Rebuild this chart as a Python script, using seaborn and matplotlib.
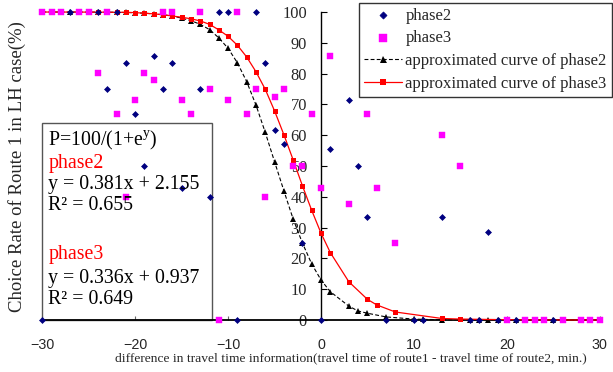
import seaborn as sns
import matplotlib.pyplot as plt
from matplotlib.patches import Rectangle

# phase2 observations (navy diamonds)
x_phase2 = [-30, -27, -24, -23, -22, -21, -20, -19, -18, -17, -16, -15, -13, -12, -11, -10,
            -9, -7, -6, -5, -4, -2, 0, 1, 3, 4, 5, 7, 10, 11, 13, 16, 17, 18, 19, 21, 25]
y_phase2 = [0, 100, 100, 75.1, 100, 83.3, 66.8, 50.1, 85.8, 75.1, 83.3, 43.0, 75.1, 40.0, 100, 100,
            0, 100, 83.5, 61.7, 57.1, 25.0, 0, 55.5, 71.4, 50.0, 33.3, 0, 0, 0, 33.3, 0, 0, 28.6, 0, 0, 0]

# phase3 observations (magenta squares)
x_phase3 = [-30, -29, -28, -26, -25, -24, -23, -22, -21, -20, -19, -18, -17, -16, -15, -14, -13,
            -12, -11, -10, -9, -8, -7, -6, -5, -4, -3, -2, -1, 0, 1, 3, 5, 6, 8, 13, 15,
            20, 22, 23, 24, 26, 28, 29, 30]
y_phase3 = [100, 100, 100, 100, 100, 80.1, 100, 66.8, 40.0, 71.4, 80.1, 77.8, 100, 100, 71.4, 66.8, 100,
            75.1, 0, 71.4, 100, 66.8, 75.1, 40.0, 72.3, 75.1, 50.0, 50.0, 66.8, 42.8, 85.8, 37.6, 66.8, 42.8, 25.1, 60.0, 50.0,
            0, 0, 0, 0, 0, 0, 0, 0]

# approximated curves
x_curve2 = [-30, -27, -24, -23, -22, -21, -20, -19, -18, -17, -16, -15, -14, -13, -12, -11, -10,
            -9, -8, -7, -6, -5, -4, -3, -2, -1, 0, 1, 3, 4, 5, 7, 10, 11, 13, 16, 17, 18, 19, 21, 25, 30]
y_curve2 = [100.0, 99.99, 99.96, 99.94, 99.9, 99.85, 99.75, 99.6, 99.4, 99.1, 98.7, 98.0, 97.2, 96.0, 94.3, 91.6, 88.2,
            83.5, 77.4, 69.8, 60.9, 51.4, 42.0, 32.8, 25.0, 18.2, 13.0, 9.2, 4.5, 2.9, 2.2, 1.0, 0.3, 0.2, 0.1, 0.05, 0.03,
            0.02, 0.01, 0.0, 0.0, 0.0]
x_curve3 = x_phase3
y_curve3 = [99.99, 99.99, 99.98, 99.97, 99.96, 99.95, 99.93, 99.9, 99.9, 99.8, 99.6, 99.4, 99.1, 98.7, 98.3, 97.8, 97.1,
            96.0, 94.2, 92.1, 89.2, 85.4, 80.6, 74.9, 67.9, 60.2, 52.0, 43.6, 35.6, 28.2, 21.9, 12.4, 6.7, 4.9, 2.6, 0.5, 0.3,
            0.1, 0.05, 0.03, 0.02, 0.01, 0.01, 0.0, 0.0]

x_ticks = [-30, -20, -10, 0, 10, 20, 30]
y_ticks = [0, 10, 20, 30, 40, 50, 60, 70, 80, 90, 100]

sns.set_theme(style="white")
plt.rcParams['font.family'] = ['Liberation Serif', 'DejaVu Serif']
plt.rcParams['mathtext.fontset'] = 'custom'
plt.rcParams['mathtext.rm'] = 'Liberation Serif'

fig = plt.figure(figsize=(6.13, 3.72), dpi=100)
ax = fig.add_axes([42.3 / 613, 52 / 372, 557.4 / 613, 308 / 372])

sns.scatterplot(x=x_phase2, y=y_phase2, marker='D', s=9, color='#000080', edgecolor='#000080',
                linewidth=0.5, label='phase2', zorder=6, clip_on=False, ax=ax)
sns.scatterplot(x=x_phase3, y=y_phase3, marker='s', s=18, color='#FF00FF', edgecolor='#FF00FF',
                linewidth=0.3, label='phase3', zorder=5, clip_on=False, ax=ax)
sns.lineplot(x=x_curve2, y=y_curve2, color='black', linewidth=0.8, linestyle='--',
             marker='^', markersize=4.2, markeredgewidth=0, estimator=None,
             label='approximated curve of phase2', zorder=3, clip_on=False, ax=ax)
ax.lines[-1].set_dashes([3.5, 2])
sns.lineplot(x=x_curve3, y=y_curve3, color='#FF0000', linewidth=0.9,
             marker='s', markersize=3.6, markeredgewidth=0, estimator=None,
             label='approximated curve of phase3', zorder=4, clip_on=False, ax=ax)

ax.set_xlim(-30, 30)
ax.set_ylim(0, 100)
ax.set_xticks(x_ticks)
ax.set_yticks(y_ticks)
ax.spines['left'].set_position(('data', 0))
ax.spines['right'].set_visible(False)
ax.spines['top'].set_visible(False)
ax.spines['left'].set_color('black')
ax.spines['left'].set_linewidth(1.0)
ax.spines['bottom'].set_color('black')
ax.spines['bottom'].set_linewidth(1.3)
ax.tick_params(axis='y', direction='in', length=4, width=0.8, color='black',
               labelsize=11.8, pad=10, left=True)
ax.tick_params(axis='x', direction='in', length=3, width=0.8, color='#666666',
               labelsize=10.3, pad=13, bottom=True, labelfontfamily='Liberation Sans')
ax.set_xlabel('')
ax.set_ylabel('')

fig.text(351 / 613, 1 - 358 / 372,
         'difference in travel time information(travel time of route1 - travel time of route2, min.)',
         ha='center', va='center', fontsize=9.7)
fig.text(17 / 613, 1 - 167 / 372, 'Choice Rate of Route 1 in LH case(%)',
         ha='center', va='center', rotation=90, fontsize=13.5)

# equation box
ax.add_patch(Rectangle((-30, 0), 18.3, 64.1, facecolor='none', edgecolor='#555555',
                       linewidth=1.0, zorder=1, clip_on=False))
box_lines = [
    ('P=100/(1+e$^{\\mathrm{y}}$)', 'black', 140),
    ('phase2', '#FF0000', 163),
    ('y = 0.381x + 2.155', 'black', 185),
    ('R² = 0.655', 'black', 206),
    ('phase3', '#FF0000', 255),
    ('y = 0.336x + 0.937', 'black', 278),
    ('R² = 0.649', 'black', 300),
]
for txt, col, py in box_lines:
    fig.text(48.3 / 613, 1 - py / 372, txt, color=col, ha='left', va='center',
             fontsize=14.3, zorder=7)

leg = ax.legend(loc='upper right', bbox_to_anchor=(611.7 / 613, 1 - 2.7 / 372),
                bbox_transform=fig.transFigure, borderaxespad=0, fontsize=12,
                frameon=True, fancybox=False, framealpha=1, edgecolor='#333333',
                handlelength=2.3, handletextpad=0.2, labelspacing=0.4,
                borderpad=0.3, markerscale=1.2)
leg.get_frame().set_linewidth(1.0)

fig.savefig('out.png', dpi=100)
